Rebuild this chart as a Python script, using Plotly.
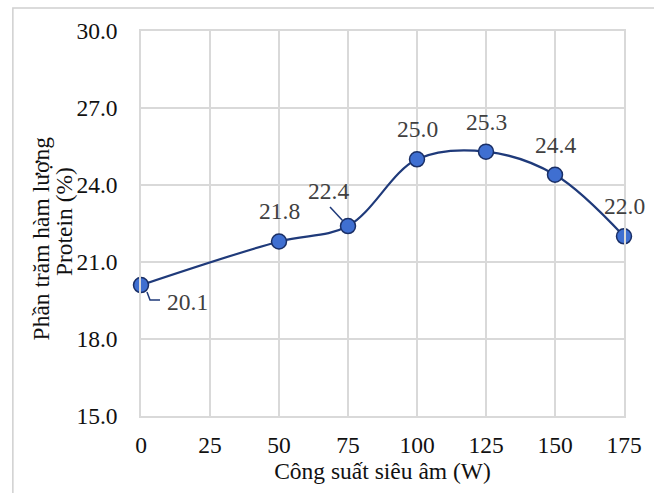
import plotly.graph_objects as go

# Ultrasonic power (W) vs protein content (%)
power_w = [0, 50, 75, 100, 125, 150, 175]
protein_pct = [20.1, 21.8, 22.4, 25.0, 25.3, 24.4, 22.0]
x_ticks = [0, 25, 50, 75, 100, 125, 150, 175]
y_ticks = [15, 18, 21, 24, 27, 30]
y_title_lines = ["Phần trăm hàm lượng", "Protein (%)"]
x_title = "Công suất siêu âm (W)"

W, H = 654, 493
M = dict(l=141, r=23, t=31, b=77)
pw = W - M["l"] - M["r"]
ph = H - M["t"] - M["b"]


def px_x(px):
    return (px - M["l"]) / pw


def px_y(py):
    return (H - M["b"] - py) / ph


FONT = "Liberation Serif"
FS = 23.5
GRID = "#d9d9d9"
NAVY = "#1f3a7a"

fig = go.Figure()
fig.add_trace(go.Scatter(
    x=power_w, y=protein_pct,
    mode="lines+markers",
    line=dict(color=NAVY, width=2.2, shape="spline", smoothing=1.0),
    marker=dict(size=15, color="#3f6fd1", line=dict(color="#1a2f66", width=1.5)),
    cliponaxis=False,
    hoverinfo="skip",
))

# label offsets in pixels (xshift, yshift) and optional leader path (pixels, y up)
label_pos = {
    0: (46, -17, "M 6,-7 L 9,-15 L 19,-15"),
    75: (-20, 35, "M -18,19 L -5,5"),
}
annotations, shapes = [], []
for xv, yv in zip(power_w, protein_pct):
    xs, ys, leader = label_pos.get(xv, (0, 30, None))
    annotations.append(dict(
        x=xv, y=yv, xref="x", yref="y", text=f"{yv:.1f}", showarrow=False,
        xshift=xs, yshift=ys, font=dict(family=FONT, size=FS, color="#404040"),
    ))
    if leader:
        shapes.append(dict(
            type="path", xref="x", yref="y",
            xsizemode="pixel", ysizemode="pixel", xanchor=xv, yanchor=yv,
            path=leader, line=dict(color=NAVY, width=1.5),
        ))

# rotated y-axis title, two tightly spaced lines
for line_text, cx, cy in zip(y_title_lines, [40, 63], [238, 222]):
    annotations.append(dict(
        x=px_x(cx), y=px_y(cy), xref="paper", yref="paper",
        text=line_text, textangle=-90, showarrow=False,
        xanchor="center", yanchor="middle",
        font=dict(family=FONT, size=FS, color="#111111"),
    ))

# outer chart frame
shapes.append(dict(
    type="rect", xref="paper", yref="paper", layer="above",
    x0=px_x(11), x1=px_x(W + 10), y0=px_y(H + 10), y1=px_y(8),
    line=dict(color="#d0d0d0", width=1.5), fillcolor="rgba(0,0,0,0)",
))

fig.update_layout(
    width=W, height=H, margin=M,
    paper_bgcolor="white", plot_bgcolor="white",
    showlegend=False,
    font=dict(family=FONT, size=FS, color="#000000"),
    annotations=annotations, shapes=shapes,
    xaxis=dict(
        range=[0, 175], tickvals=x_ticks, ticktext=[str(v) for v in x_ticks],
        showgrid=True, gridcolor=GRID, gridwidth=1.5,
        showline=True, linecolor=GRID, linewidth=1.5, mirror=True,
        zeroline=False, ticks="outside", ticklen=7, tickcolor="rgba(0,0,0,0)",
        tickfont=dict(family=FONT, size=FS, color="#111111"),
        title=dict(text=x_title, standoff=4,
                   font=dict(family=FONT, size=FS, color="#111111")),
    ),
    yaxis=dict(
        range=[15, 30], tickvals=y_ticks, ticktext=[f"{v:.1f}" for v in y_ticks],
        showgrid=True, gridcolor=GRID, gridwidth=1.5,
        showline=True, linecolor=GRID, linewidth=1.5, mirror=True,
        zeroline=False, ticks="outside", ticklen=17, tickcolor="rgba(0,0,0,0)",
        tickfont=dict(family=FONT, size=FS, color="#111111"),
    ),
)

fig.write_html("out.html")
